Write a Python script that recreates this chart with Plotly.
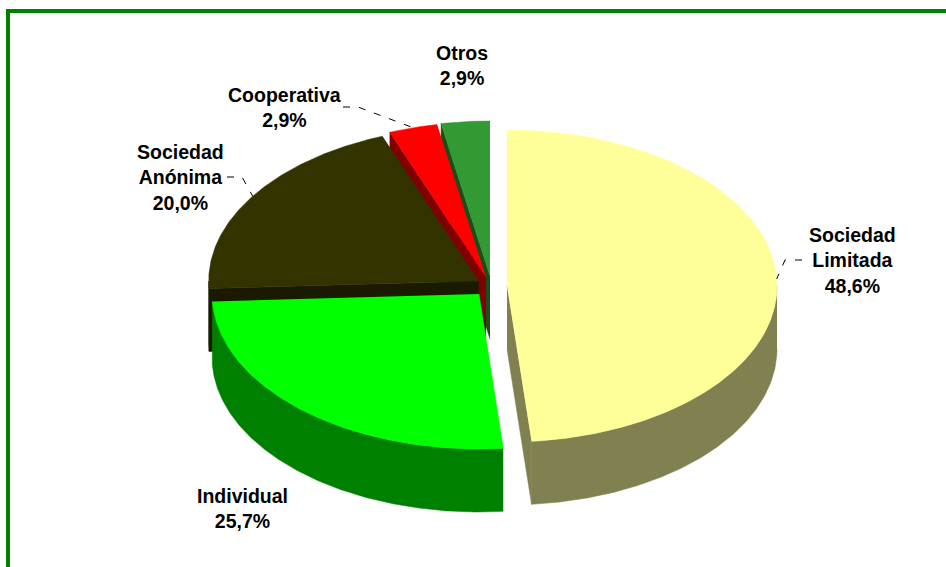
import numpy as np
import plotly.graph_objects as go

# data, clockwise from 12 o'clock
names = ["Sociedad<br>Limitada", "Individual", "Sociedad<br>Anónima", "Cooperativa", "Otros"]
values = [48.6, 25.7, 20.0, 2.9, 2.9]

# slice colours: top, outer wall, cut face
top_colors = ["#FFFF99", "#00FF00", "#333300", "#FF0000", "#339933"]
wall_colors = ["#808050", "#008000", "#1A1A00", "#800000", "#1A4D1A"]
cut_colors = ["#808050", "#008000", "#1A1A00", "#800000", "#1A4D1A"]

# exploded apex of each slice in px, ellipse radii and pie height
apex_x = [507, 479, 478.7, 486, 490]
apex_y = [286, 294, 281, 277, 276]
rx = [270, 267, 270, 270, 270]
ry = [156, 155, 155, 155, 155]
depth = 63

# label centre and leader elbow (None = no leader)
label_x = [852, 242, 180, 284, 462]
label_y = [260, 508, 177, 107, 65]
leader_start = [(802, 260), None, (227, 177), (343, 107), None]
leader_elbow = [(785, 260), None, (242, 177), (358, 107), None]

fig = go.Figure()


def rim(i, a0, a1):
    t = np.radians(np.linspace(a0, a1, max(int(abs(a1 - a0) * 2), 2)))
    return apex_x[i] + rx[i] * np.sin(t), apex_y[i] - ry[i] * np.cos(t)


def poly(x, y, color):
    # thin outline of the same colour closes the seams between faces
    fig.add_trace(go.Scatter(x=list(x), y=list(y), mode="lines", fill="toself",
                             fillcolor=color, line=dict(color=color, width=0.5),
                             hoverinfo="skip", showlegend=False))


def cut_face(i, a):
    px, py = rim(i, a, a)
    poly([apex_x[i], px[0], px[0], apex_x[i]],
         [apex_y[i], py[0], py[0] + depth, apex_y[i] + depth], cut_colors[i])


edges = np.cumsum([0] + values) / sum(values) * 360

# back to front: last slice first, the front ones go over it
for i in reversed(range(len(values))):
    a0, a1 = edges[i], edges[i + 1]
    if 180 < a0 < 360:
        cut_face(i, a0)
    if 0 < a1 < 180:
        cut_face(i, a1)
    w0, w1 = max(a0, 90), min(a1, 270)
    if w1 > w0:
        wx, wy = rim(i, w0, w1)
        poly(np.r_[wx, wx[::-1]], np.r_[wy, wy[::-1] + depth], wall_colors[i])
    tx, ty = rim(i, a0, a1)
    poly(np.r_[apex_x[i], tx], np.r_[apex_y[i], ty], top_colors[i])

# leaders end on the rim at the middle of the slice
for i in range(len(values)):
    if leader_start[i] is None:
        continue
    ex, ey = rim(i, (edges[i] + edges[i + 1]) / 2, (edges[i] + edges[i + 1]) / 2)
    fig.add_trace(go.Scatter(x=[leader_start[i][0], leader_elbow[i][0], ex[0]],
                             y=[leader_start[i][1], leader_elbow[i][1], ey[0]],
                             mode="lines", line=dict(color="black", width=1, dash="7px,9px"),
                             hoverinfo="skip", showlegend=False))

for i in range(len(values)):
    pct = f"{values[i]:.1f}".replace(".", ",") + "%"
    fig.add_annotation(x=label_x[i], y=label_y[i], xref="x", yref="y", showarrow=False,
                       text=f"<b>{names[i]}<br>{pct}</b>", align="center",
                       font=dict(family="Liberation Sans", size=19.5, color="black"))

# green frame, runs off the right and bottom of the picture
fig.add_shape(type="rect", x0=8, y0=11, x1=980, y1=600, xref="x", yref="y",
              line=dict(color="#008000", width=4), layer="above")

fig.update_layout(width=946, height=567, margin=dict(l=0, r=0, t=0, b=0),
                  paper_bgcolor="white", plot_bgcolor="white")
fig.update_xaxes(range=[0, 946], visible=False, fixedrange=True)
fig.update_yaxes(range=[567, 0], visible=False, fixedrange=True)
# page margin would push the plot 8px in
fig.write_html("out.html", config=dict(displayModeBar=False),
               post_script="document.body.style.margin='0';document.body.style.overflow='hidden';")
